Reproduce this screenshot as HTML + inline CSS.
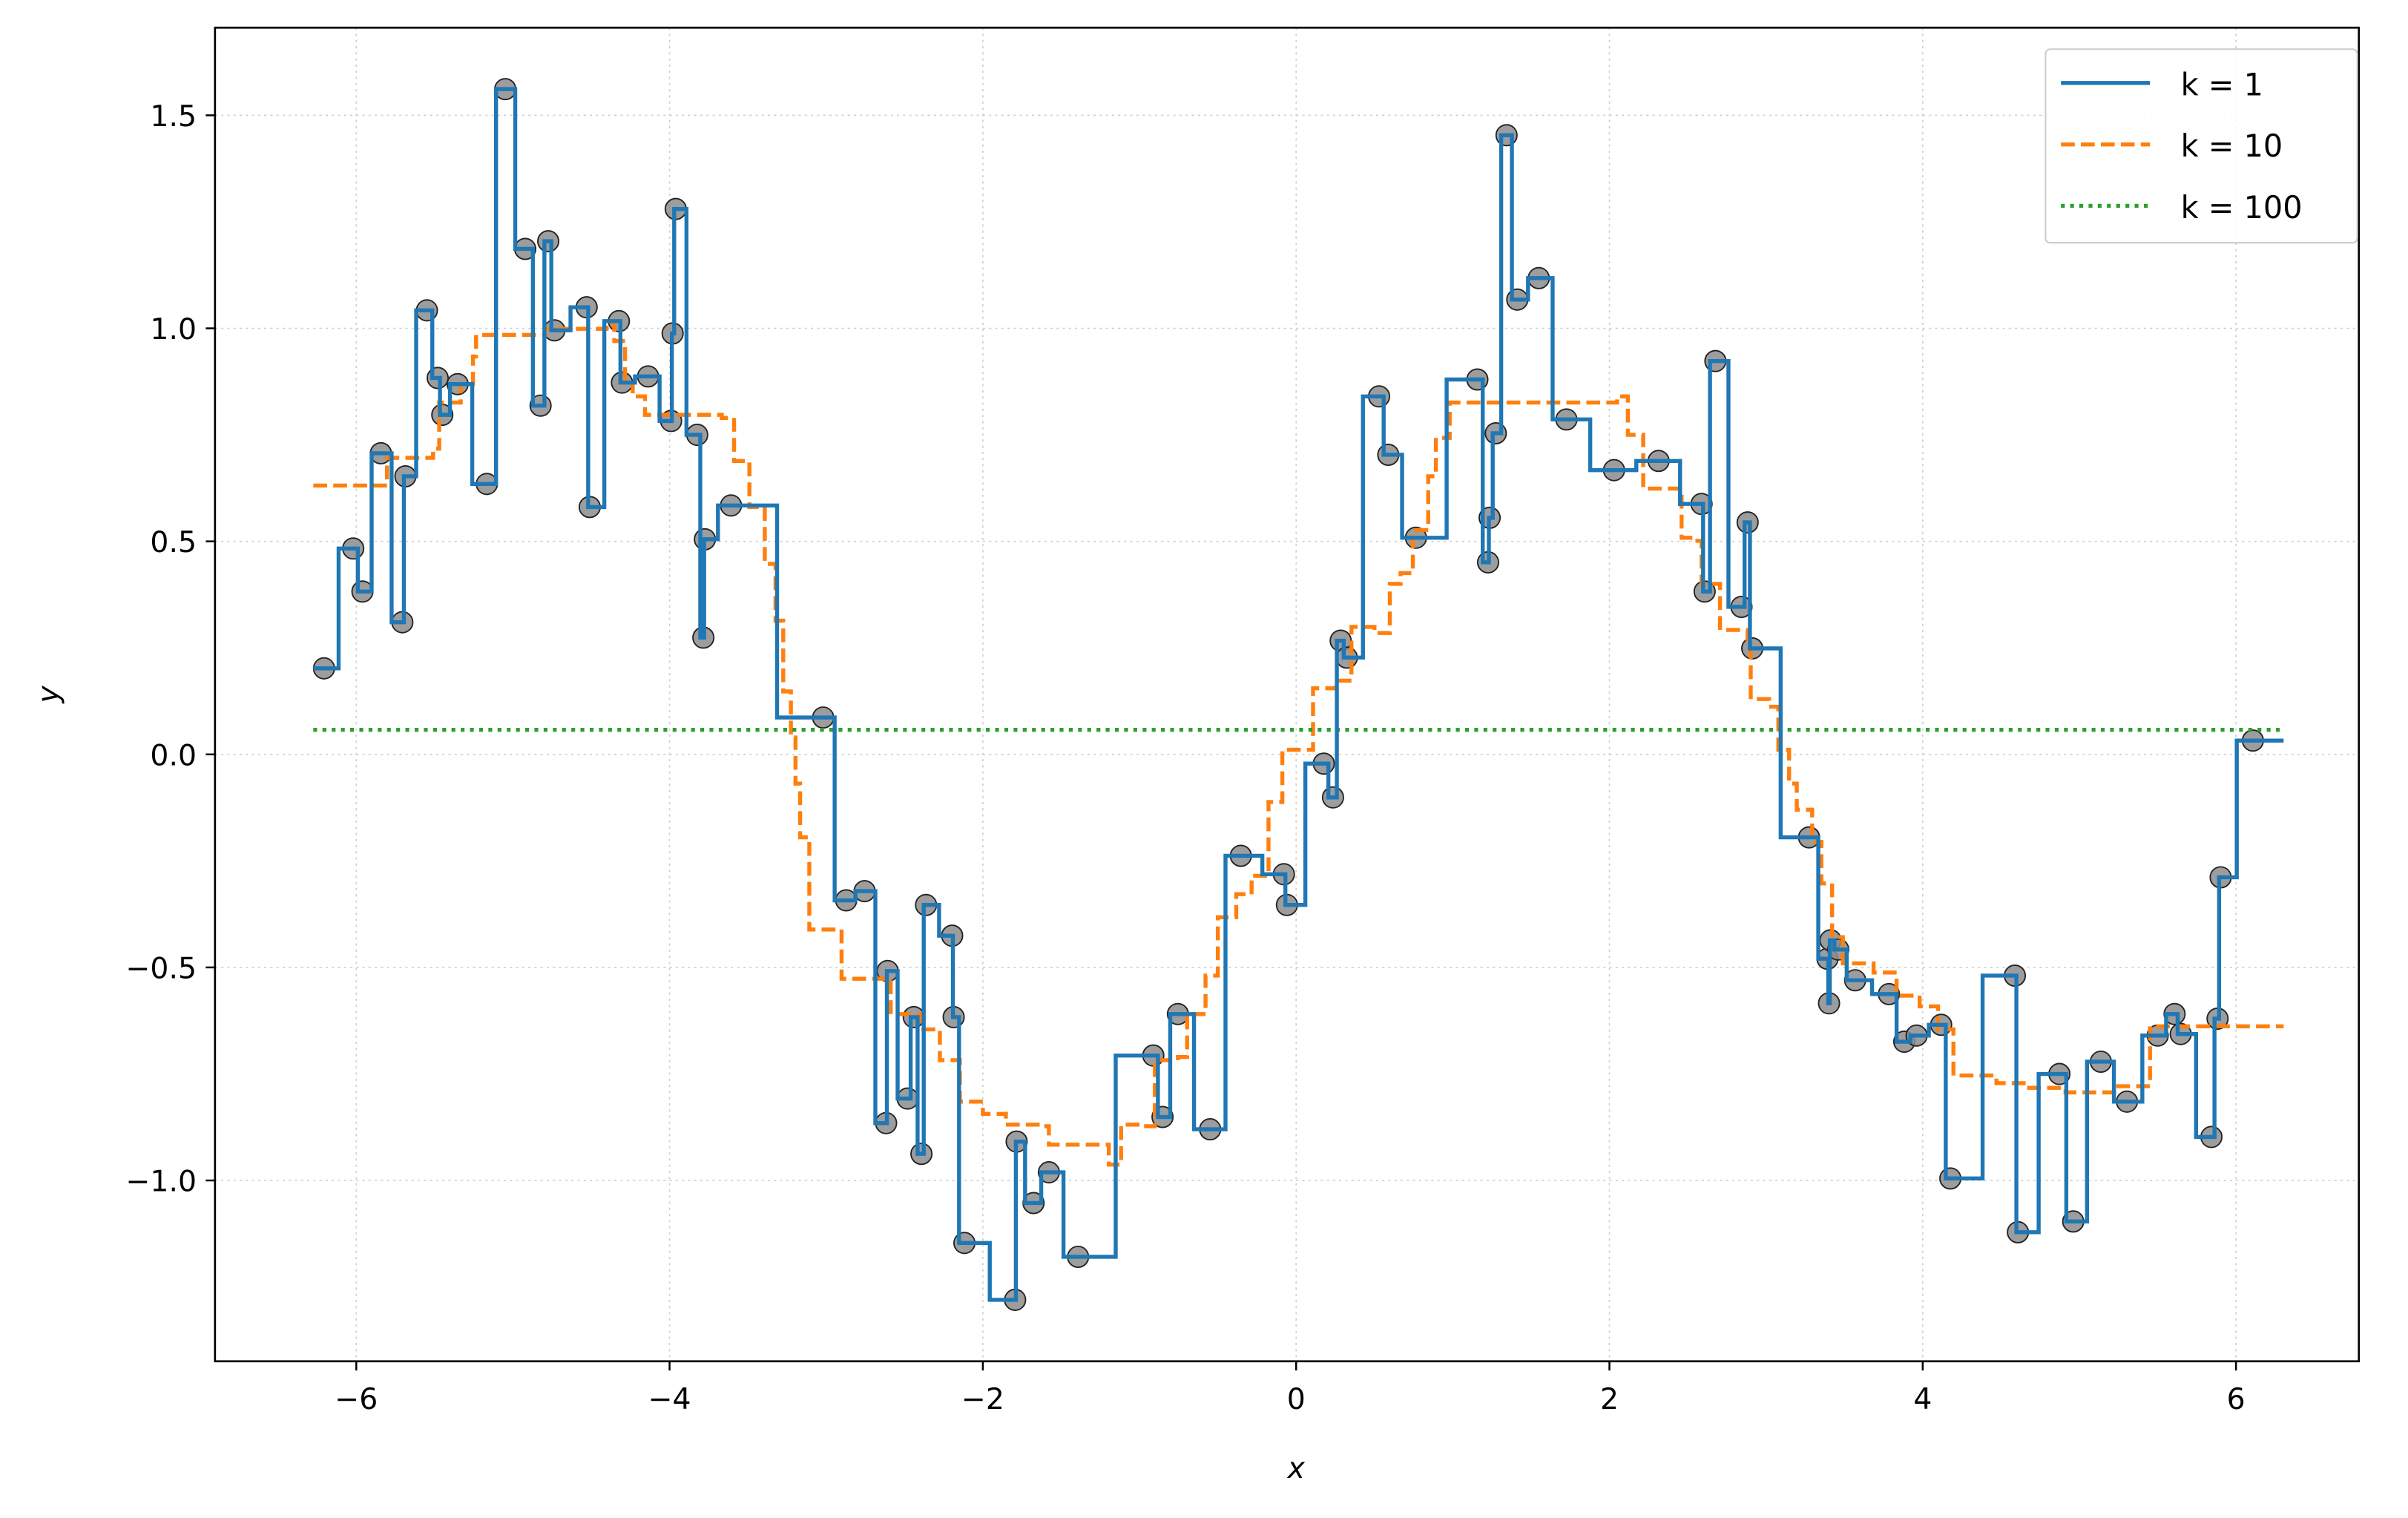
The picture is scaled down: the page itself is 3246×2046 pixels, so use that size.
<!DOCTYPE html>
<html><head><meta charset="utf-8"><style>
html,body{margin:0;padding:0;background:#fff;}
svg{display:block;}
text{font-family:"DejaVu Sans","Liberation Sans",sans-serif;fill:#000;}
</style></head><body>
<svg id="s" width="3246" height="2046" viewBox="0 0 1568 988" preserveAspectRatio="none" xmlns="http://www.w3.org/2000/svg">
<rect x="0" y="0" width="1568" height="988" fill="#fff"/>
<g id="grid" stroke="#b0b0b0" stroke-width="0.8" stroke-dasharray="1.5,2.5" opacity="0.6"></g>
<g id="ticks"></g>
<g id="pts" fill="#8c8c8c" fill-opacity="0.85" stroke="#222" stroke-width="0.9"></g>
<path id="orange" fill="none" stroke="#ff7f0e" stroke-width="2.6" stroke-dasharray="9,4"/>
<line x1="204" y1="475" x2="1487" y2="475" stroke="#2ca02c" stroke-width="2.6" stroke-dasharray="2.5,3.5"/>
<path id="blue" fill="none" stroke="#1f77b4" stroke-width="2.6"/>
<rect x="140" y="18" width="1396" height="868" fill="none" stroke="#000" stroke-width="1.3"/>
<text x="844" y="962" font-size="19" font-style="italic" text-anchor="middle">x</text>
<text x="38" y="452" font-size="19" font-style="italic" text-anchor="middle" transform="rotate(-90 38 452)">y</text>
<rect x="1332" y="32" width="203" height="126" rx="3" fill="#fff" fill-opacity="0.85" stroke="#ccc" stroke-width="1"/>
<line x1="1342" y1="54" x2="1400" y2="54" stroke="#1f77b4" stroke-width="2.6"/>
<line x1="1342" y1="94" x2="1400" y2="94" stroke="#ff7f0e" stroke-width="2.6" stroke-dasharray="9,4"/>
<line x1="1342" y1="134" x2="1400" y2="134" stroke="#2ca02c" stroke-width="2.6" stroke-dasharray="2.5,3.5"/>
<text x="1420" y="62" font-size="20">k = 1</text>
<text x="1420" y="102" font-size="20">k = 10</text>
<text x="1420" y="142" font-size="20">k = 100</text>
</svg>
<script>
var NS="http://www.w3.org/2000/svg";
function el(t,a,p){var e=document.createElementNS(NS,t);for(var k in a)e.setAttribute(k,a[k]);p.appendChild(e);return e;}
var grid=document.getElementById('grid'),ticks=document.getElementById('ticks');
for(var v=-6;v<=6;v+=2){var x=844+102*v;
 el('line',{x1:x,y1:18,x2:x,y2:886},grid);
 el('line',{x1:x,y1:886,x2:x,y2:892,stroke:'#000','stroke-width':1.2},ticks);
 var t=el('text',{x:x,y:917,'font-size':19,'text-anchor':'middle'},ticks);t.textContent=(v<0?'\u2212'+(-v):''+v);}
var yv=[1.5,1.0,0.5,0.0,-0.5,-1.0];
yv.forEach(function(v){var y=491-277.3*v;
 el('line',{x1:140,y1:y,x2:1536,y2:y},grid);
 el('line',{x1:134,y1:y,x2:140,y2:y,stroke:'#000','stroke-width':1.2},ticks);
 var t=el('text',{x:128,y:y+7,'font-size':19,'text-anchor':'end'},ticks);t.textContent=(v<0?'\u2212':'')+Math.abs(v).toFixed(1);});
var P=[[211,435],[230,357],[236,385],[248,295],[262,405],[264,310],[278,202],[285,246],[288,270],[298,250],[317,315],[329,58],[342,162],[352,264],[357,157],[361,215],[382,200],[384,330],[403,209],[405,249],[422,245],[437,274],[438,217],[440,136],[454,283],[458,415],[459,351],[476,329],[536,467],[551,586],[563,580],[577,731],[578,632],[591,715],[595,662],[600,751],[603,589],[620,609],[621,662],[628,809],[661,846],[662,743],[673,783],[683,763],[702,818],[751,687],[757,727],[767,660],[788,735],[808,557],[836,569],[838,589],[862,497],[868,519],[873,417],[877,428],[898,258],[904,296],[922,350],[962,247],[969,366],[970,337],[974,282],[981,88],[988,195],[1002,181],[1020,273],[1051,306],[1080,300],[1108,328],[1110,385],[1117,235],[1134,395],[1138,340],[1141,422],[1178,545],[1190,624],[1191,653],[1192,612],[1197,618],[1208,638],[1230,647],[1240,678],[1248,674],[1264,667],[1270,767],[1312,635],[1314,802],[1341,699],[1350,795],[1368,691],[1385,717],[1405,674],[1416,660],[1420,673],[1440,740],[1444,663],[1446,571],[1467,482]];
var d='M204,'+P[0][1];
for(var i=0;i<P.length;i++){var xe=(i<P.length-1)?(P[i][0]+P[i+1][0])/2:1487;
 d+=' H'+xe; if(i<P.length-1)d+=' V'+P[i+1][1];}
document.getElementById('blue').setAttribute('d',d);
var pts=document.getElementById('pts');
P.forEach(function(p){el('circle',{cx:p[0],cy:p[1],r:6.8},pts);});
var O=[[204,316],[252,316],[252,298],[282,298],[282,292],[286,262],[300,250],[308,232],[310,218],[355,218],[355,214],[395,210],[400,222],[407,249],[412,258],[420,270],[455,270],[470,272],[478,300],[488,330],[498,367],[505,404],[510,450],[515,480],[518,510],[521,545],[527,605],[545,605],[548,637],[575,637],[580,660],[600,670],[612,690],[625,717],[640,725],[655,732],[680,733],[683,745],[720,745],[722,758],[730,732],[745,733],[752,690],[767,688],[773,660],[785,635],[793,597],[805,582],[815,570],[826,522],[835,488],[855,448],[870,443],[880,408],[895,412],[905,380],[912,373],[920,345],[930,310],[935,285],[944,262],[1050,262],[1053,258],[1060,283],[1070,318],[1090,318],[1095,350],[1103,352],[1108,380],[1120,410],[1138,420],[1140,455],[1152,460],[1158,488],[1165,510],[1170,527],[1180,548],[1186,575],[1193,610],[1200,627],[1220,633],[1235,648],[1250,655],[1262,670],[1272,700],[1300,705],[1320,708],[1345,711],[1378,707],[1400,668],[1487,668]];
var od='M'+O[0][0]+','+O[0][1];
for(var j=1;j<O.length;j++){od+=' H'+O[j][0]+' V'+O[j][1];}
document.getElementById('orange').setAttribute('d',od);
</script>
</body></html>
